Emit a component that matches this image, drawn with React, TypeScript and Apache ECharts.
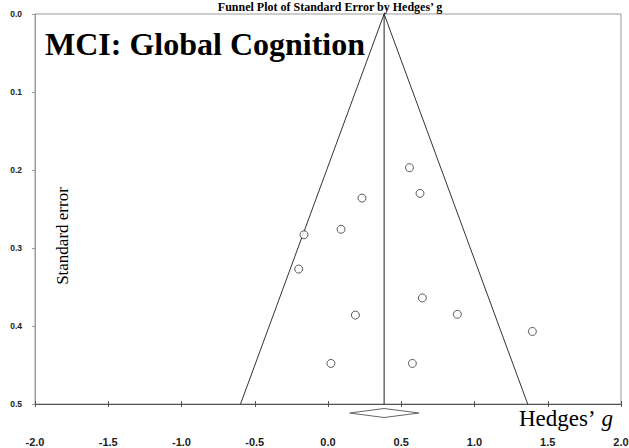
import React, { useEffect, useRef } from "react";
import * as echarts from "echarts";

// Study-level effect sizes (Hedges' g) and their standard errors
const hedgesG = [0.556, 0.628, 0.232, 0.089, -0.164, -0.2, 0.644, 0.883, 0.187, 1.395, 0.02, 0.576];
const standardError = [0.197, 0.23, 0.236, 0.276, 0.283, 0.327, 0.364, 0.385, 0.386, 0.407, 0.448, 0.448];

// Pooled estimate and its 95% CI
const summaryG = 0.383;
const summaryLower = 0.148;
const summaryUpper = 0.621;

// Axis settings
const xTicks = [-2, -1.5, -1, -0.5, 0, 0.5, 1, 1.5, 2];
const yTicks = [0, 0.1, 0.2, 0.3, 0.4, 0.5];
const Z = 1.96;
const SE_MAX = 0.5;

const panelTitle = "MCI: Global Cognition";
const figureTitle = "Funnel Plot of Standard Error by Hedges’ g";
const yAxisName = "Standard error";

export default function App() {
  const ref = useRef<HTMLDivElement>(null);

  useEffect(() => {
    document.body.style.margin = "0";
    if (!ref.current) return;
    const chart = echarts.init(ref.current, null, { renderer: "svg" });

    const points = hedgesG.map((g, i) => [g, standardError[i]]);
    const funnel = [
      [summaryG - Z * SE_MAX, SE_MAX],
      [summaryG, 0],
      [summaryG + Z * SE_MAX, SE_MAX],
    ];
    const centerLine = [
      [summaryG, 0],
      [summaryG, SE_MAX],
    ];

    const option: any = {
      animation: false,
      backgroundColor: "#ffffff",
      grid: {
        left: 35,
        right: 8,
        top: 14,
        bottom: 44,
        show: true,
        borderColor: "#9a9a9a",
        borderWidth: 1,
        containLabel: false,
        outerBoundsMode: "none",
      },
      xAxis: [
        {
          type: "value",
          position: "bottom",
          min: xTicks[0],
          max: xTicks[xTicks.length - 1],
          interval: 0.5,
          axisLine: { show: true, onZero: false, lineStyle: { color: "#555555", width: 1 } },
          axisTick: { show: true, length: 3, lineStyle: { color: "#555555" } },
          splitLine: { show: false },
          axisLabel: {
            show: true,
            margin: 32,
            showMinLabel: true,
            showMaxLabel: true,
            fontFamily: "Liberation Sans, Arial, sans-serif",
            fontWeight: "bold",
            fontSize: 11,
            lineHeight: 11,
            color: "#222222",
            formatter: (v: number) => v.toFixed(1),
          },
        },
        {
          type: "value",
          position: "bottom",
          min: xTicks[0],
          max: xTicks[xTicks.length - 1],
          interval: 0.5,
          axisLine: { show: false, onZero: false },
          axisTick: { show: true, inside: true, length: 3, lineStyle: { color: "#555555" } },
          splitLine: { show: false },
          axisLabel: { show: false },
        },
      ],
      yAxis: {
        type: "value",
        inverse: true,
        min: yTicks[0],
        max: yTicks[yTicks.length - 1],
        interval: 0.1,
        axisLine: { show: true, onZero: false, lineStyle: { color: "#9a9a9a", width: 1 } },
        axisTick: { show: true, length: 3, lineStyle: { color: "#9a9a9a" } },
        splitLine: { show: false },
        axisLabel: {
          margin: 13,
          fontFamily: "Liberation Sans, Arial, sans-serif",
          fontWeight: "bold",
          fontSize: 8.5,
          color: "#222222",
          formatter: (v: number) => v.toFixed(1),
        },
      },
      series: [
        {
          type: "line",
          data: funnel,
          symbol: "none",
          lineStyle: { color: "#333333", width: 1 },
          silent: true,
          z: 2,
        },
        {
          type: "line",
          data: centerLine,
          symbol: "none",
          lineStyle: { color: "#222222", width: 1 },
          silent: true,
          z: 2,
        },
        {
          type: "scatter",
          data: points,
          symbol: "circle",
          symbolSize: 8,
          itemStyle: { color: "#ffffff", borderColor: "#333333", borderWidth: 1 },
          z: 3,
        },
        {
          type: "custom",
          data: [[summaryLower, summaryG, summaryUpper]],
          clip: false,
          renderItem: (params: any, api: any) => {
            const lo = api.coord([api.value(0), SE_MAX]);
            const mid = api.coord([api.value(1), SE_MAX]);
            const hi = api.coord([api.value(2), SE_MAX]);
            const cy = lo[1] + 9;
            const h = 4.5;
            return {
              type: "polygon",
              shape: {
                points: [
                  [lo[0], cy],
                  [mid[0], cy - h],
                  [hi[0], cy],
                  [mid[0], cy + h],
                ],
              },
              style: { fill: "#ffffff", stroke: "#666666", lineWidth: 1 },
            };
          },
          z: 4,
        },
      ],
      graphic: [
        {
          type: "text",
          x: 330,
          y: 1,
          style: {
            text: figureTitle,
            fontFamily: "Liberation Serif, Times New Roman, serif",
            fontWeight: "bold",
            fontSize: 12,
            fill: "#000000",
            align: "center",
            verticalAlign: "top",
          },
        },
        {
          type: "text",
          x: 45,
          y: 44,
          style: {
            text: panelTitle,
            fontFamily: "Liberation Serif, Times New Roman, serif",
            fontWeight: "bold",
            fontSize: 32,
            fill: "#000000",
            verticalAlign: "middle",
          },
          z: 10,
        },
        {
          type: "text",
          x: 62,
          y: 236,
          rotation: Math.PI / 2,
          style: {
            text: yAxisName,
            fontFamily: "Liberation Serif, Times New Roman, serif",
            fontSize: 17,
            fill: "#000000",
            align: "center",
            verticalAlign: "middle",
          },
        },
        {
          type: "text",
          x: 519,
          y: 418,
          style: {
            text: "{a|Hedges’ }{b|g}",
            verticalAlign: "middle",
            rich: {
              a: {
                fontFamily: "Liberation Serif, Times New Roman, serif",
                fontSize: 23,
                fill: "#000000",
                color: "#000000",
              },
              b: {
                fontFamily: "Liberation Serif, Times New Roman, serif",
                fontSize: 23,
                fontStyle: "italic",
                fill: "#000000",
                color: "#000000",
              },
            },
          },
        },
      ],
    };

    chart.setOption(option);
    return () => chart.dispose();
  }, []);

  return <div ref={ref} style={{ width: 629, height: 448 }} />;
}
